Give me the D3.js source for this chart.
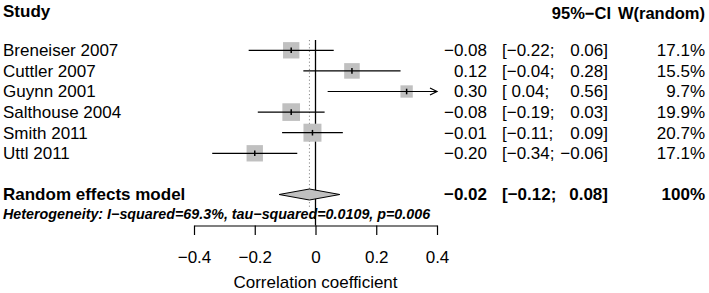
<!DOCTYPE html>
<html lang="en">
<head>
    <meta charset="UTF-8">
    <title>Forest plot</title>
    <script src="https://d3js.org/d3.v7.min.js"></script>
    <style>
        body { margin: 0; background: #fff; }
        svg text { font-family: "Liberation Sans", Arial, sans-serif; fill: #000; }
    </style>
</head>
<body>
    <div id="forest"></div>

    <script>
        // datos
        var studies = ["Breneiser 2007", "Cuttler 2007", "Guynn 2001", "Salthouse 2004", "Smith 2011", "Uttl 2011"];
        var estimates = [-0.08, 0.12, 0.30, -0.08, -0.01, -0.20];
        var lowers = [-0.22, -0.04, 0.04, -0.19, -0.11, -0.34];
        var uppers = [0.06, 0.28, 0.56, 0.03, 0.09, -0.06];
        var weights = [17.1, 15.5, 9.7, 19.9, 20.7, 17.1];
        var pooled = { est: -0.02, lower: -0.12, upper: 0.08, weight: 100 };
        var heterogeneity = "Heterogeneity: I\u2212squared=69.3%, tau\u2212squared=0.0109, p=0.006";
        var xTicks = [-0.4, -0.2, 0, 0.2, 0.4];

        var width = 709, height = 293;
        var fontSize = 17;

        var svg = d3.select("#forest").append("svg")
            .attr("width", width)
            .attr("height", height);

        var x = d3.scaleLinear().domain([-0.4, 0.4]).range([194, 437]);
        // fila -> y
        var y = d3.scaleLinear().domain([0, 1]).range([50.3, 70.9]);
        var size = d3.scaleSqrt().domain([0, 20.7]).range([0, 18]);

        function fmt(v) { return v.toFixed(2).replace("-", "\u2212"); }
        function pad(v) { return (v < 0 ? "" : " ") + fmt(v); }

        var colEst = 487, colLo = 502, colHi = 608, colW = 705;
        var axisY = 225.5;

        // cabeceras
        svg.append("text").attr("x", 3).attr("y", 17)
            .style("font-size", fontSize + "px").style("font-weight", "bold").text("Study");
        svg.append("text").attr("x", 611).attr("y", 19).attr("text-anchor", "end")
            .style("font-size", "16.5px").style("font-weight", "bold").text("95%\u2212CI");
        svg.append("text").attr("x", colW).attr("y", 19).attr("text-anchor", "end")
            .style("font-size", "16.5px").style("font-weight", "bold").text("W(random)");

        // lineas verticales
        svg.append("line")
            .attr("x1", x(0)).attr("x2", x(0))
            .attr("y1", 40).attr("y2", axisY)
            .attr("stroke", "#000").attr("stroke-width", 1.3);
        svg.append("line")
            .attr("x1", x(pooled.est)).attr("x2", x(pooled.est))
            .attr("y1", 40).attr("y2", 208)
            .attr("stroke", "#888").attr("stroke-width", 1)
            .attr("stroke-dasharray", "1.2,2.4");

        // estudios
        var rows = svg.selectAll(".study")
            .data(studies)
            .enter().append("g")
            .attr("class", "study")
            .attr("transform", function(d, i) { return "translate(0," + y(i) + ")"; });

        rows.append("rect")
            .attr("x", function(d, i) { return x(estimates[i]) - size(weights[i]) / 2; })
            .attr("y", function(d, i) { return -size(weights[i]) / 2; })
            .attr("width", function(d, i) { return size(weights[i]); })
            .attr("height", function(d, i) { return size(weights[i]); })
            .attr("fill", "#c0c0c0");

        rows.append("line")
            .attr("x1", function(d, i) { return x(Math.max(lowers[i], -0.4)); })
            .attr("x2", function(d, i) { return x(Math.min(uppers[i], 0.4)); })
            .attr("stroke", "#000").attr("stroke-width", 1.2);

        rows.append("line")
            .attr("x1", function(d, i) { return x(estimates[i]); })
            .attr("x2", function(d, i) { return x(estimates[i]); })
            .attr("y1", -2.8).attr("y2", 2.8)
            .attr("stroke", "#000").attr("stroke-width", 1.5);

        // flecha si el IC se sale del eje
        rows.filter(function(d, i) { return uppers[i] > 0.4; })
            .append("path")
            .attr("d", "M" + (x(0.4) - 7) + ",-3.5 L" + x(0.4) + ",0 L" + (x(0.4) - 7) + ",3.5")
            .attr("fill", "none").attr("stroke", "#000").attr("stroke-width", 1.2);

        rows.append("text").attr("x", 3).attr("dy", "0.35em")
            .style("font-size", fontSize + "px").text(function(d) { return d; });
        rows.append("text").attr("x", colEst).attr("dy", "0.35em").attr("text-anchor", "end")
            .style("font-size", fontSize + "px").text(function(d, i) { return fmt(estimates[i]); });
        rows.append("text").attr("x", colLo).attr("dy", "0.35em")
            .style("font-size", fontSize + "px").style("white-space", "pre")
            .text(function(d, i) { return "[" + pad(lowers[i]) + ";"; });
        rows.append("text").attr("x", colHi).attr("dy", "0.35em").attr("text-anchor", "end")
            .style("font-size", fontSize + "px").style("white-space", "pre")
            .text(function(d, i) { return pad(uppers[i]) + "]"; });
        rows.append("text").attr("x", colW).attr("dy", "0.35em").attr("text-anchor", "end")
            .style("font-size", fontSize + "px").text(function(d, i) { return weights[i].toFixed(1) + "%"; });

        // modelo de efectos aleatorios
        var py = y(7.0);
        svg.append("path")
            .attr("d", "M" + x(pooled.lower) + "," + py +
                " L" + x(pooled.est) + "," + (py - 5.5) +
                " L" + x(pooled.upper) + "," + py +
                " L" + x(pooled.est) + "," + (py + 5.5) + " Z")
            .attr("fill", "#c0c0c0").attr("stroke", "#000").attr("stroke-width", 1);

        var bold = svg.append("g").attr("transform", "translate(0," + py + ")")
            .style("font-size", fontSize + "px").style("font-weight", "bold");
        bold.append("text").attr("x", 3).attr("dy", "0.35em").text("Random effects model");
        bold.append("text").attr("x", colEst).attr("dy", "0.35em").attr("text-anchor", "end").text(fmt(pooled.est));
        bold.append("text").attr("x", colLo).attr("dy", "0.35em").style("white-space", "pre").text("[" + pad(pooled.lower) + ";");
        bold.append("text").attr("x", colHi).attr("dy", "0.35em").attr("text-anchor", "end").style("white-space", "pre").text(pad(pooled.upper) + "]");
        bold.append("text").attr("x", colW).attr("dy", "0.35em").attr("text-anchor", "end").text(pooled.weight + "%");

        svg.append("text").attr("x", 3).attr("y", 219)
            .style("font-size", "14.3px").style("font-weight", "bold").style("font-style", "italic")
            .text(heterogeneity);

        // eje
        var axis = svg.append("g")
            .attr("transform", "translate(0," + axisY + ")")
            .call(d3.axisBottom(x).tickValues(xTicks).tickSize(9.5).tickSizeOuter(0).tickPadding(16)
                .tickFormat(function(d) { return d === 0 ? "0" : d3.format(".1f")(d).replace("-", "\u2212"); }));
        axis.select(".domain").attr("stroke-width", 1.2);
        axis.selectAll(".tick line").attr("stroke-width", 1.2);
        axis.selectAll("text").style("font-size", fontSize + "px")
            .style("font-family", "'Liberation Sans', Arial, sans-serif");

        svg.append("text")
            .attr("x", x(0)).attr("y", 288)
            .attr("text-anchor", "middle")
            .style("font-size", fontSize + "px")
            .text("Correlation coefficient");
    </script>
</body>
</html>
